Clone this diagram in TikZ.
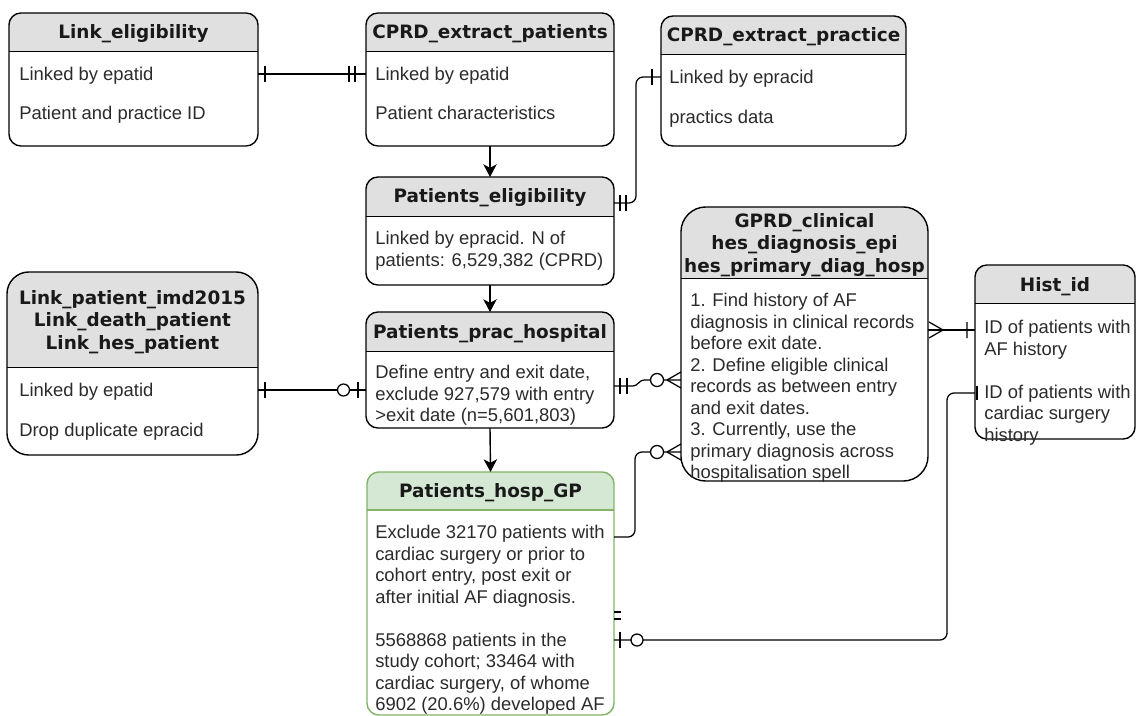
\documentclass[tikz,border=0pt]{standalone}
\usepackage{fontspec}
\setmainfont{Liberation Sans}
\newfontfamily\headfont{DejaVu Sans}
\usetikzlibrary{arrows.meta}
\definecolor{hdrgray}{HTML}{E0E0E0}
\definecolor{hdrgreen}{HTML}{D5E8D4}
\definecolor{lngreen}{HTML}{82B366}
\definecolor{txtgray}{HTML}{2B2B2B}

\begin{document}
\begin{tikzpicture}[x=0.025cm, y=-0.025cm,
  entity/.style={draw=#1, line width=1pt, fill=white, rounded corners=8.5pt,
                 inner sep=0pt, outer sep=0pt},
  entity/.default=black,
  header/.style n args={3}{path picture={
    \fill[#2, sharp corners] (path picture bounding box.north west)
      rectangle ([yshift=-#1]path picture bounding box.north east);
    \draw[#3, line width=1pt, sharp corners] ([yshift=-#1]path picture bounding box.north west)
      -- ([yshift=-#1]path picture bounding box.north east);}},
  ttl/.style={font=\headfont\bfseries\fontsize{13.1pt}{15.8pt}\selectfont,
              align=center, inner sep=0pt, text=black!90},
  txt/.style={font=\fontsize{13.1pt}{15.3pt}\selectfont, align=left,
              anchor=north west, inner sep=0pt, text=txtgray},
  link/.style={line width=0.9pt, rounded corners=5pt},
  erbar/.style={line width=0.9pt},
  flow/.style={line width=1pt, -{Stealth[length=9pt, width=9.5pt, inset=2.5pt]}}
]
\useasboundingbox (0,0) rectangle (1137,716);
\fill[white] (0,0) rectangle (1137,716);

% Link_eligibility
\node[entity, header={27.6pt}{hdrgray}{black}, minimum width=6.225cm, minimum height=3.325cm] (le) at (133.5,79.5) {};
\node[ttl] (le-t) at (133.5,34) {Link\_eligibility};
\node[txt] (le-a) at (19,67) {Linked by epatid};
\node[txt] (le-b) at (19,106) {Patient and practice ID};

% CPRD_extract_patients
\node[entity, header={27.6pt}{hdrgray}{black}, minimum width=6.2cm, minimum height=3.325cm] (cep) at (490,79.5) {};
\node[ttl] (cep-t) at (490,34) {CPRD\_extract\_patients};
\node[txt] (cep-a) at (375,67) {Linked by epatid};
\node[txt] (cep-b) at (375,106) {Patient characteristics};

% CPRD_extract_practice
\node[entity, header={27.6pt}{hdrgray}{black}, minimum width=6.125cm, minimum height=3.25cm] (cpr) at (783.5,81) {};
\node[ttl] (cpr-t) at (783.5,37) {CPRD\_extract\_practice};
\node[txt] (cpr-a) at (669,70) {Linked by epracid};
\node[txt] (cpr-b) at (669,110) {practics data};

% Patients_eligibility
\node[entity, header={28.3pt}{hdrgray}{black}, minimum width=6.2cm, minimum height=2.7cm] (pel) at (490,231) {};
\node[ttl] (pel-t) at (490,198) {Patients\_eligibility};
\node[txt] (pel-a) at (375,231) {Linked by epracid. N of\\patients: 6,529,382 (CPRD)};

% Patients_prac_hospital
\node[entity, header={28.3pt}{hdrgray}{black}, minimum width=6.2cm, minimum height=2.9cm] (pph) at (490,370) {};
\node[ttl] (pph-t) at (490,334) {Patients\_prac\_hospital};
\node[txt] (pph-a) at (375,365) {Define entry and exit date,\\exclude 927,579 with entry\\>exit date (n=5,601,803)};

% Patients_hosp_GP
\node[entity=lngreen, header={26.9pt}{hdrgreen}{lngreen}, minimum width=6.175cm, minimum height=6.075cm] (phg) at (490.5,593.5) {};
\node[ttl] (phg-t) at (490.5,493) {Patients\_hosp\_GP};
\node[txt] (phg-a) at (375,525) {Exclude 32170 patients with\\cardiac surgery or prior to\\cohort entry, post exit or\\after initial AF diagnosis.\\[15.3pt]5568868 patients in the\\study cohort; 33464 with\\cardiac surgery, of whome\\6902 (20.6\%) developed AF};

% Link tables
\node[entity, rounded corners=15.6pt, header={68pt}{hdrgray}{black}, minimum width=6.275cm, minimum height=4.575cm] (lpi) at (132.5,363.5) {};
\node[ttl] (lpi-t) at (132.5,322) {Link\_patient\_imd2015\\Link\_death\_patient\\Link\_hes\_patient};
\node[txt] (lpi-a) at (19,383) {Linked by epatid};
\node[txt] (lpi-b) at (19,423) {Drop duplicate epracid};

% GPRD_clinical
\node[entity, rounded corners=17.7pt, header={51pt}{hdrgray}{black}, minimum width=6.175cm, minimum height=6.85cm] (gcl) at (804.5,344) {};
\node[ttl] (gcl-t) at (804.5,245) {GPRD\_clinical\\hes\_diagnosis\_epi\\hes\_primary\_diag\_hosp};
\node[txt] (gcl-a) at (690,293) {1. Find history of AF\\diagnosis in clinical records\\before exit date.\\2. Define eligible clinical\\records as between entry\\and exit dates.\\3. Currently, use the\\primary diagnosis across\\hospitalisation spell};

% Hist_id
\node[entity, header={27.6pt}{hdrgray}{black}, minimum width=4cm, minimum height=4.35cm] (hid) at (1055,352) {};
\node[ttl] (hid-t) at (1055,287) {Hist\_id};
\node[txt] (hid-a) at (984,320) {ID of patients with\\AF history\\[15.3pt]ID of patients with\\cardiac surgery\\history};

% flow
\draw[flow] (cep.south) -- (pel.north);
\draw[flow] (pel.south) -- (pph.north);
\draw[flow] (pph.south) -- (phg.north);

% Link_eligibility -- CPRD_extract_patients
\draw[link] (le.east |- 0,74) -- (cep.west |- 0,74);
\draw[erbar] (265,66) -- (265,82) (349,66) -- (349,82) (355,66) -- (355,82);

% Patients_eligibility -- CPRD_extract_practice
\draw[link] (pel.east |- 0,203) -- (636,203) -- (636,77) -- (cpr.west |- 0,77);
\draw[erbar] (620,195) -- (620,211) (626,195) -- (626,211) (652,69) -- (652,85);

% Link tables -- Patients_prac_hospital
\draw[link] (lpi.east |- 0,390) -- (pph.west |- 0,390);
\draw[erbar] (265,382) -- (265,398) (358,382) -- (358,398);
\draw[erbar, fill=white] (343.5,390) circle[radius=6];

% Patients_prac_hospital -- GPRD_clinical
\draw[link, sharp corners] (pph.east |- 0,386) -- (632,386) .. controls (639,386) and (638,380) .. (645,380) -- (gcl.west |- 0,380);
\draw[erbar] (620,378) -- (620,394) (627,378) -- (627,394);
\draw[erbar] (667,380) -- (681,372) (667,380) -- (681,388);
\draw[erbar, fill=white] (657,380) circle[radius=6.5];

% Patients_hosp_GP -- GPRD_clinical
\draw[link] (phg.east |- 0,537) -- (635,537) -- (635,452) -- (gcl.west |- 0,452);
\draw[erbar] (667,452) -- (681,444) (667,452) -- (681,460);
\draw[erbar, fill=white] (657,452) circle[radius=6.5];

% GPRD_clinical -- Hist_id
\draw[link] (gcl.east |- 0,330) -- (hid.west |- 0,330);
\draw[erbar] (943,330) -- (929,322) (943,330) -- (929,338) (967,322) -- (967,338);

% Hist_id -- Patients_hosp_GP
\draw[link] (hid.west |- 0,393) -- (947,393) -- (947,640) -- (phg.east |- 0,640);
\draw[erbar] (977,386) -- (977,400) (620,632) -- (620,648);
\draw[erbar, fill=white] (637,640) circle[radius=6];
\draw[erbar] (614,612) -- (621,612) (614,619) -- (621,619);

\end{tikzpicture}
\end{document}
